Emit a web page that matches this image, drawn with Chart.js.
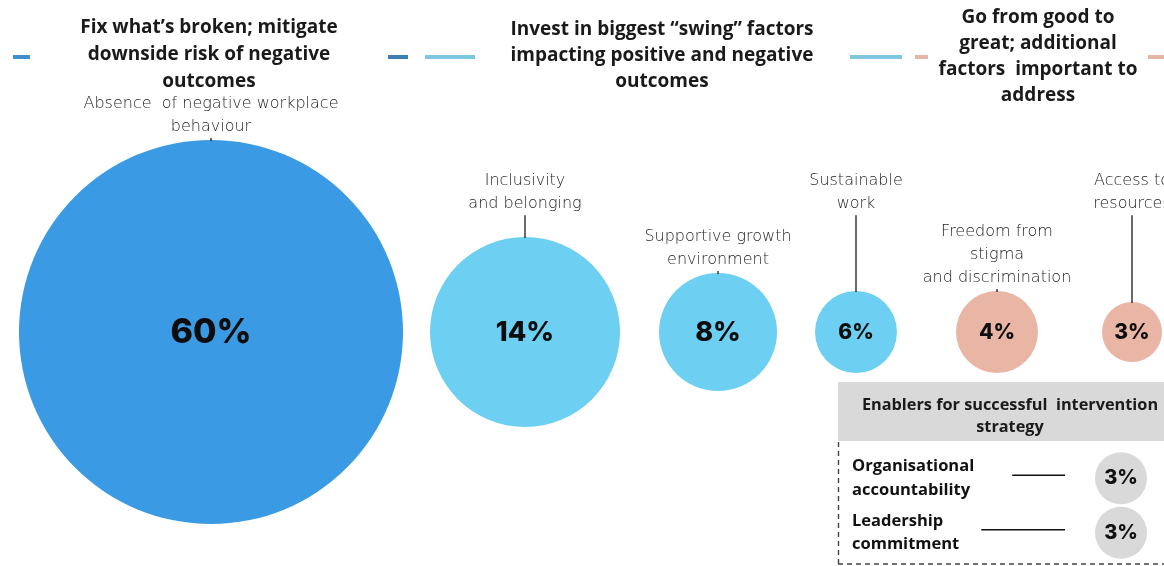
<!DOCTYPE html>
<html>
<head>
<meta charset="utf-8">
<script src="https://cdn.jsdelivr.net/npm/chart.js@4.4.1/dist/chart.umd.min.js"></script>
<style>
  html, body { margin: 0; padding: 0; background: #ffffff; }
  #wrap { position: relative; width: 1164px; height: 566px; overflow: hidden; }
  #main { position: absolute; left: 0; top: 0; }
  #enablers { position: absolute; left: 838px; top: 442px; }
</style>
</head>
<body>
<div id="wrap">
  <canvas id="main" width="1164" height="566"></canvas>
  <canvas id="enablers" width="326" height="124"></canvas>
</div>
<script>
// ---------------- DATA ----------------
const CATEGORIES = [
  ['Absence  of negative workplace', 'behaviour'],
  ['Inclusivity', 'and belonging'],
  ['Supportive growth', 'environment'],
  ['Sustainable', 'work'],
  ['Freedom from', 'stigma', 'and discrimination'],
  ['Access to', 'resources']
];
const SHARES = [60, 14, 8, 6, 4, 3];          // % values
const GROUP_OF = [0, 1, 1, 1, 2, 2];          // which strategy group each factor belongs to
const GROUP_TITLES = [
  ['Fix what\u2019s broken; mitigate', 'downside risk of negative', 'outcomes'],
  ['Invest in biggest \u201cswing\u201d factors', 'impacting positive and negative', 'outcomes'],
  ['Go from good to', 'great; additional', 'factors  important to', 'address']
];
const ENABLER_TITLE = ['Enablers for successful  intervention', 'strategy'];
const ENABLERS = [['Organisational', 'accountability'], ['Leadership', 'commitment']];
const ENABLER_SHARES = [3, 3];

// ---------------- LAYOUT / STYLE ----------------
const BUBBLE_X = [211, 525, 718, 856, 997, 1132];   // horizontal placement (x-axis units)
const BUBBLE_R = [192, 95, 59, 41, 41, 30];         // drawn radius
const PCT_FONT = [34, 27, 27, 21, 21, 21];
const LABEL_MODE = ['hug', 'row', 'hug', 'row', 'hug', 'row'];
const GROUP_COLORS = ['#3a9ae3', '#6dcff2', '#e9b6a6'];
const HEADER_X = [209, 662, 1038];
const HEADER_Y = [28, 30, 18];
const HEADER_LH = [27, 26, 25.7];
const DASHES = [
  [13, 30, '#3f8fce'], [388, 408, '#3f7fb8'], [425, 475, '#7fc6e0'],
  [850, 902, '#7fc6e0'], [915, 928, '#e5b5a5'], [1148, 1170, '#e5b5a5']
];
const HEAD_FONT = '700 19px "Open Sans", Lato, sans-serif';
const LABEL_FONT = '200 16px "DejaVu Sans", "Open Sans", sans-serif';
const PCT_FAMILY = 'Inter, Lato, "Open Sans", sans-serif';
const BOLD_SMALL = '700 16.5px "Open Sans", Lato, sans-serif';

function drawLines(ctx, lines, x, y, lh) {
  lines.forEach((t, i) => ctx.fillText(t, x, y + i * lh));
}

const mainPlugin = {
  id: 'annot',
  afterDatasetsDraw(chart) {
    const ctx = chart.ctx;
    const meta = chart.getDatasetMeta(0);
    ctx.save();
    // header dashes
    ctx.lineWidth = 4;
    DASHES.forEach(([a, b, c]) => {
      ctx.strokeStyle = c;
      ctx.beginPath(); ctx.moveTo(a, 57); ctx.lineTo(b, 57); ctx.stroke();
    });
    // header titles
    ctx.fillStyle = '#1a1a1a';
    ctx.font = HEAD_FONT;
    ctx.textAlign = 'center';
    ctx.textBaseline = 'middle';
    GROUP_TITLES.forEach((lines, g) => drawLines(ctx, lines, HEADER_X[g], HEADER_Y[g], HEADER_LH[g]));

    // category labels, connectors, values
    meta.data.forEach((el, i) => {
      const r = el.options.radius;
      const top = el.y - r;
      const lines = CATEGORIES[i];
      const lh = 23.3;
      let firstY;
      if (LABEL_MODE[i] === 'row') firstY = 181;
      else firstY = top - 13 - (lines.length - 1) * lh;
      const lastY = firstY + (lines.length - 1) * lh;
      ctx.fillStyle = '#1e1e1e';
      ctx.font = LABEL_FONT;
      ctx.textAlign = 'center';
      ctx.textBaseline = 'middle';
      drawLines(ctx, lines, el.x, firstY, lh);
      ctx.strokeStyle = '#1a1a1a';
      ctx.lineWidth = 1.3;
      ctx.beginPath();
      ctx.moveTo(el.x, lastY + 11);
      ctx.lineTo(el.x, top + 1);
      ctx.stroke();
      ctx.fillStyle = '#0d0d0d';
      ctx.font = '800 ' + PCT_FONT[i] + 'px ' + PCT_FAMILY;
      ctx.fillText(SHARES[i] + '%', el.x, el.y + 1);
    });

    // enabler panel frame
    ctx.fillStyle = '#d9d9d9';
    ctx.fillRect(838, 382, 330, 59);
    ctx.fillStyle = '#1a1a1a';
    ctx.font = '700 16.3px "Open Sans", Lato, sans-serif';
    drawLines(ctx, ENABLER_TITLE, 1010, 405, 22);
    ctx.strokeStyle = '#444';
    ctx.lineWidth = 1.4;
    ctx.setLineDash([5, 4]);
    ctx.beginPath();
    ctx.moveTo(838.5, 442); ctx.lineTo(838.5, 566);
    ctx.moveTo(838, 564); ctx.lineTo(1166, 564);
    ctx.stroke();
    ctx.restore();
  }
};

new Chart(document.getElementById('main'), {
  type: 'bubble',
  data: {
    datasets: [{
      data: SHARES.map((v, i) => ({ x: BUBBLE_X[i], y: 0, r: BUBBLE_R[i] })),
      backgroundColor: SHARES.map((v, i) => GROUP_COLORS[GROUP_OF[i]]),
      borderWidth: 0,
      clip: false
    }]
  },
  options: {
    responsive: false,
    animation: false,
    events: [],
    layout: { autoPadding: false, padding: { top: 98, bottom: 0, left: 0, right: 0 } },
    plugins: { legend: { display: false }, tooltip: { enabled: false } },
    scales: {
      x: { type: 'linear', min: 0, max: 1164, display: false },
      y: { type: 'linear', min: -1, max: 1, display: false }
    }
  },
  plugins: [mainPlugin]
});

// ---------------- ENABLERS PANEL ----------------
const enablerPlugin = {
  id: 'enablerAnnot',
  afterDatasetsDraw(chart) {
    const ctx = chart.ctx;
    const meta = chart.getDatasetMeta(0);
    const yScale = chart.scales.y;
    ctx.save();
    meta.data.forEach((el, i) => {
      const r = el.options.radius;
      ctx.font = BOLD_SMALL;
      const w = ctx.measureText(ENABLERS[i][0]).width;
      const lx0 = yScale.left + w + 38;
      const lx1 = el.x - r - 30;
      const ly = el.y - 3;
      ctx.strokeStyle = '#111';
      ctx.lineWidth = 1.4;
      ctx.beginPath(); ctx.moveTo(lx0, ly); ctx.lineTo(lx1, ly); ctx.stroke();
      ctx.fillStyle = '#111';
      ctx.font = '800 20px ' + PCT_FAMILY;
      ctx.textAlign = 'center';
      ctx.textBaseline = 'middle';
      ctx.fillText(ENABLER_SHARES[i] + '%', el.x, el.y);
    });
    ctx.restore();
  }
};

new Chart(document.getElementById('enablers'), {
  type: 'bubble',
  data: {
    labels: ENABLERS,
    datasets: [{
      data: ENABLER_SHARES.map((v, i) => ({ x: 0, y: i, r: 26 })),
      backgroundColor: '#d9d9d9',
      borderWidth: 0,
      clip: false
    }]
  },
  options: {
    responsive: false,
    animation: false,
    events: [],
    layout: { autoPadding: false, padding: { top: 9, bottom: 6, left: 14, right: 0 } },
    plugins: { legend: { display: false }, tooltip: { enabled: false } },
    scales: {
      x: { type: 'linear', min: -1, max: 1, display: false },
      y: {
        type: 'category',
        labels: ENABLERS,
        offset: true,
        afterFit: s => { s.width = 226; s.paddingTop = 0; s.paddingBottom = 0; },
        grid: { display: false, drawTicks: false },
        border: { display: false },
        ticks: {
          autoSkip: false,
          crossAlign: 'far',
          color: '#111',
          padding: 0,
          font: { family: '"Open Sans", Lato, sans-serif', size: 16.5, weight: '700', lineHeight: 1.4 }
        }
      }
    }
  },
  plugins: [enablerPlugin]
});
</script>
</body>
</html>
